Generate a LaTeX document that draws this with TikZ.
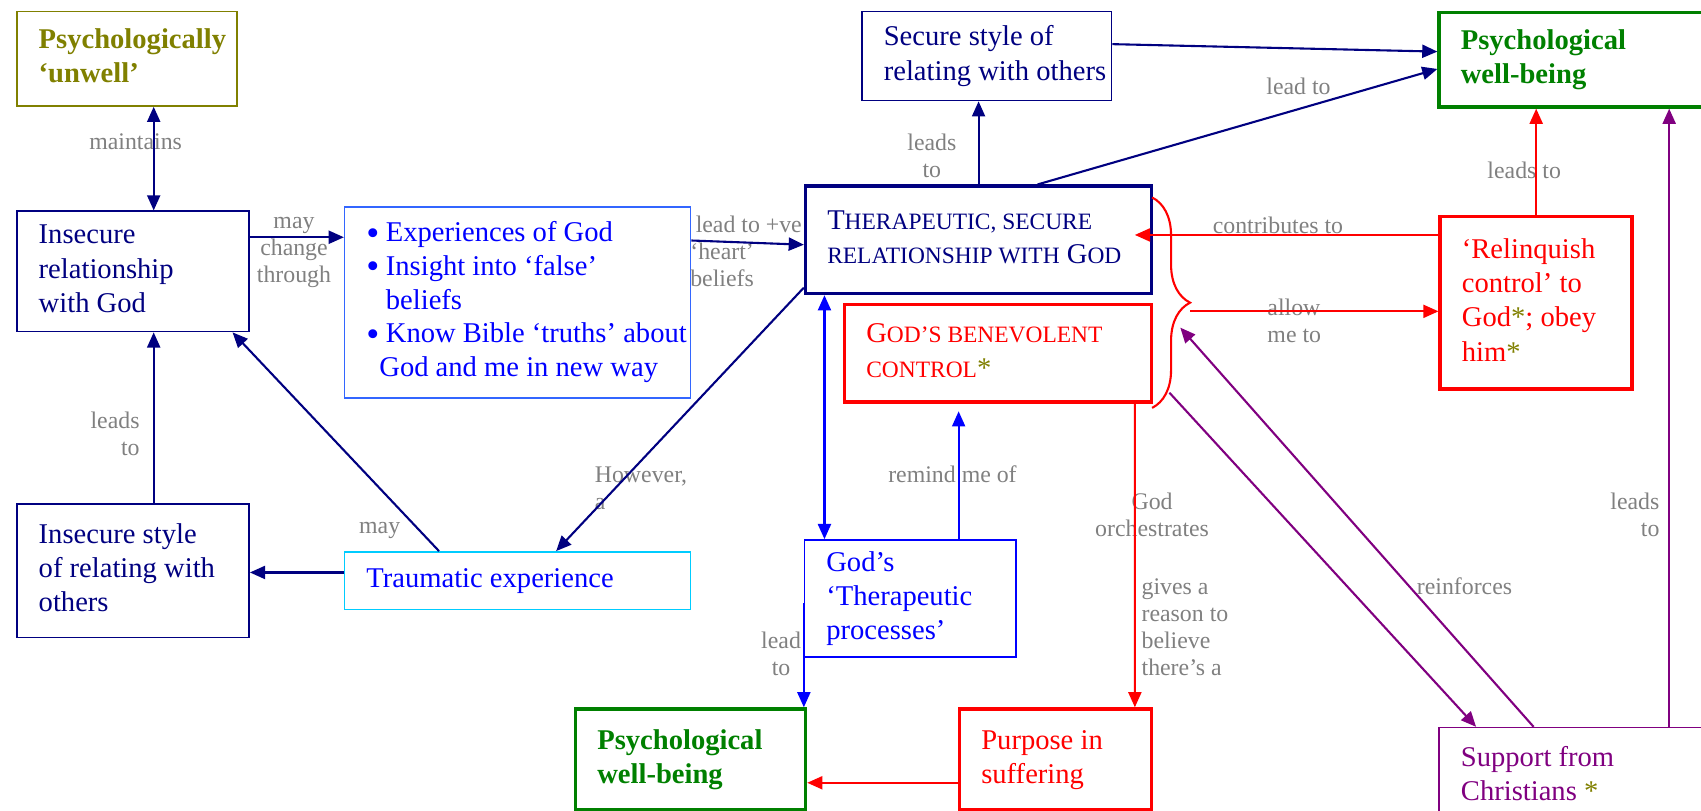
\documentclass[tikz,border=0pt]{standalone}
\usepackage{fontspec}
\setmainfont{Liberation Serif}
\usepackage{tikz}
\usepackage{xcolor}
\usetikzlibrary{arrows.meta, positioning, calc, decorations.pathreplacing}

\definecolor{navyc}{RGB}{0,0,128}
\definecolor{bluec}{RGB}{0,0,255}
\definecolor{lightbluec}{RGB}{51,102,255}
\definecolor{cyanc}{RGB}{0,204,255}
\definecolor{redc}{RGB}{255,0,0}
\definecolor{greenc}{RGB}{0,128,0}
\definecolor{olivec}{RGB}{128,128,0}
\definecolor{purplec}{RGB}{128,0,128}
\definecolor{labelgray}{RGB}{128,128,128}

\newcommand{\boxfont}{\fontsize{15}{18}\selectfont}
\newcommand{\lblfont}{\fontsize{12.5}{14.2}\selectfont}
\newcommand{\fsc}[1]{{\fontsize{12.3}{18}\selectfont\MakeUppercase{#1}}}
\newcommand{\olivestar}{{\color{olivec}*}}
\newcommand{\bigbullet}{\raisebox{-1.8pt}{\scalebox{1.3}{\textbullet}}\hspace{0.12cm}}
% fixed-width block of hand-broken lines, never rewrapped
\newcommand{\boxtext}[2]{\makebox[#1][l]{\begin{tabular}{@{}l@{}}#2\end{tabular}}}

\begin{document}
\begin{tikzpicture}[x=0.02cm, y=-0.02cm, >={Triangle[length=0.28cm, width=0.24cm]},
    box/.style={draw, rectangle, anchor=north west, inner xsep=0.4cm, inner ysep=0.1cm, font=\boxfont, line width=0.8pt},
    thickbox/.style={box, line width=1.8pt},
    lbl/.style={text=labelgray, font=\lblfont, inner sep=0pt, align=center},
    conn/.style={->, line width=1.1pt}]
    \useasboundingbox (0,0) rectangle (1568,747);

    % =========================================================
    % LEFT COLUMN: INSECURE PATH
    % =========================================================
    \node[box, draw=olivec, text=olivec, font=\boxfont\bfseries, minimum width=4.06cm, minimum height=1.74cm] (unwell) at (15,10) {\boxtext{3.26cm}{Psychologically\\`unwell'}};
    \node[box, draw=navyc, text=navyc, minimum width=4.28cm, minimum height=2.22cm] (insecRel) at (15,194) {\boxtext{3.48cm}{Insecure\\relationship\\with God}};
    \node[box, draw=navyc, text=navyc, minimum width=4.28cm, minimum height=2.46cm] (insecStyle) at (15,464) {\boxtext{3.48cm}{Insecure style\\of relating with\\others}};
    \node[box, draw=lightbluec, text=bluec, font=\fontsize{15}{17.6}\selectfont, minimum width=6.38cm, minimum height=3.52cm] (expBox) at (317,190) {\boxtext{5.58cm}{\bigbullet Experiences of God\\\bigbullet Insight into `false'\\\hspace*{0.36cm}beliefs\\\bigbullet Know Bible `truths' about\\\hspace*{0.24cm}God and me in new way}};
    \node[box, draw=cyanc, text=bluec, minimum width=6.38cm, minimum height=1.06cm] (trauma) at (317,508) {\boxtext{5.58cm}{Traumatic experience}};

    % =========================================================
    % CENTRE: RELATIONSHIP WITH GOD
    % =========================================================
    \node[box, draw=navyc, text=navyc, minimum width=4.6cm, minimum height=1.64cm] (secure) at (794,10) {\boxtext{3.8cm}{Secure style of\\relating with others}};
    \node[thickbox, draw=navyc, text=navyc, minimum width=6.38cm, minimum height=1.98cm] (therRel) at (741,170) {\boxtext{5.58cm}{T\fsc{herapeutic, secure}\\\fsc{relationship with} G\fsc{od}}};
    \node[thickbox, draw=redc, text=redc, minimum width=5.66cm, minimum height=1.8cm] (godCtrl) at (777,279) {\boxtext{4.86cm}{G\fsc{od's benevolent}\\\fsc{control}\olivestar}};
    \node[box, draw=bluec, text=bluec, minimum width=3.9cm, minimum height=2.16cm] (godProc) at (741,497) {\boxtext{3.1cm}{God's\\`Therapeutic\\processes'}};
    \node[thickbox, draw=greenc, text=greenc, font=\boxfont\bfseries, minimum width=4.24cm, minimum height=1.86cm] (pwbBot) at (529,652) {\boxtext{3.44cm}{Psychological\\well-being}};
    \node[thickbox, draw=redc, text=redc, minimum width=3.54cm, minimum height=1.86cm] (purpose) at (883,652) {\boxtext{2.74cm}{Purpose in\\suffering}};

    % =========================================================
    % RIGHT COLUMN
    % =========================================================
    \node[thickbox, draw=greenc, text=greenc, font=\boxfont\bfseries, minimum width=5.2cm, minimum height=1.74cm] (pwbTop) at (1325,10) {\boxtext{4.4cm}{Psychological\\well-being}};
    \node[thickbox, draw=redc, text=redc, minimum width=3.54cm, minimum height=3.18cm] (relinq) at (1326,198) {\boxtext{2.74cm}{`Relinquish\\control' to\\God\olivestar; obey\\him\olivestar}};
    \node[box, draw=purplec, text=purplec, minimum width=5.2cm, minimum height=1.8cm] (support) at (1326,670) {\boxtext{4.4cm}{Support from\\Christians \olivestar}};

    % brace round the two centre boxes
    \coordinate (braceTop) at (1062,182);
    \coordinate (braceBot) at (1062,376);
    \coordinate (braceTip) at (1097,287);
    \coordinate (braceIn) at (1088,302);
    \coordinate (braceOut) at (1078,362);
    \draw[redc, line width=1.1pt, decorate, decoration={brace, amplitude=0.7cm}] (braceTop) -- (braceBot);

    % =========================================================
    % CONNECTOR LABELS
    % =========================================================
    \node[lbl] (lMaint) at (125,131) {maintains};
    \node[lbl] (lMay) at (271,233) {may\\change\\through};
    \node[lbl, anchor=west, align=left] (lHeart) at (636,232) {\hspace*{0.1cm}lead to +ve\\`heart'\\beliefs};
    \node[lbl] (lLeadsA) at (859,144) {leads\\to};
    \node[lbl] (lLeadTo) at (1197,80) {lead to};
    \node[lbl] (lContrib) at (1178,208) {contributes to};
    \node[lbl, anchor=west, align=left] (lAllow) at (1168,296) {allow\\me to};
    \node[lbl] (lLeadsB) at (1405,157) {leads to};
    \node[lbl, anchor=east, align=right] (lLeadsC) at (1530,475) {leads\\to};
    \node[lbl] (lReinf) at (1350,540) {reinforces};
    \node[lbl] (lOrch) at (1062,475) {God\\orchestrates};
    \node[lbl, anchor=west, align=left] (lGives) at (1052,578) {gives a\\reason to\\believe\\there's a};
    \node[lbl] (lRemind) at (878,437) {remind me of};
    \node[lbl, anchor=west, align=left] (lHowever) at (548,450) {However,\\a};
    \node[lbl] (lMayB) at (350,489) {may};
    \node[lbl, anchor=east, align=right] (lLeadsD) at (129,400) {leads\\to};
    \node[lbl] (lLeadE) at (720,603) {lead\\to};

    % =========================================================
    % CONNECTORS
    % =========================================================
    % navy
    \draw[conn, navyc, <->] ([xshift=0.38cm]insecRel.north) coordinate (mA) -- (mA |- unwell.south);
    \draw[conn, navyc] ([yshift=0.63cm]insecRel.east) coordinate (bA) -- (bA -| expBox.west);
    \draw[conn, navyc] ([yshift=1.14cm]expBox.east) -- ([yshift=-0.09cm]therRel.west);
    \draw[conn, navyc] (therRel.north) -- (therRel.north |- secure.south);
    \draw[conn, navyc] ([yshift=0.22cm]secure.east) -- ([yshift=0.15cm]pwbTop.west);
    \draw[conn, navyc] ([xshift=1.09cm]therRel.north) -- ([yshift=-0.17cm]pwbTop.west);
    \draw[conn, navyc] ([yshift=0.14cm]therRel.south west) -- ([xshift=0.71cm]trauma.north);
    \draw[conn, navyc] ([xshift=-1.45cm]trauma.north) -- ([xshift=-0.32cm]insecRel.south east);
    \draw[conn, navyc] ([yshift=0.15cm]trauma.west) coordinate (tA) -- (tA -| insecStyle.east);
    \draw[conn, navyc] ([xshift=0.38cm]insecStyle.north) coordinate (sA) -- (sA |- insecRel.south);
    % red
    \draw[conn, redc, shorten >=-0.34cm] ([yshift=1.25cm]relinq.west) coordinate (rA) -- (rA -| therRel.east);
    \draw[conn, redc] (relinq.north) -- (relinq.north |- pwbTop.south);
    \draw[conn, redc] (braceTip) -- (braceTip -| relinq.west);
    \draw[conn, redc] ([xshift=-0.34cm]godCtrl.south east) -- ([xshift=-0.34cm]purpose.north east);
    \draw[conn, redc] ([yshift=-0.43cm]purpose.west) -- ([yshift=-0.43cm]pwbBot.east);
    % blue
    \draw[conn, bluec, <->] ([xshift=0.38cm]godProc.north west) coordinate (gA) -- (gA |- therRel.south);
    \draw[conn, bluec, shorten >=0.14cm] ([xshift=0.89cm]godProc.north) coordinate (gB) -- (gB |- godCtrl.south);
    \draw[conn, bluec] ([yshift=-0.08cm]godProc.west) coordinate (gC) -- (gC |- pwbBot.north);
    % purple
    \draw[conn, purplec] ([xshift=1.64cm]support.north) coordinate (pA) -- (pA |- pwbTop.south);
    \draw[conn, purplec] ([xshift=-0.86cm]support.north) -- (braceIn);
    \draw[conn, purplec] (braceOut) -- ([xshift=-1.92cm]support.north);
\end{tikzpicture}
\end{document}
